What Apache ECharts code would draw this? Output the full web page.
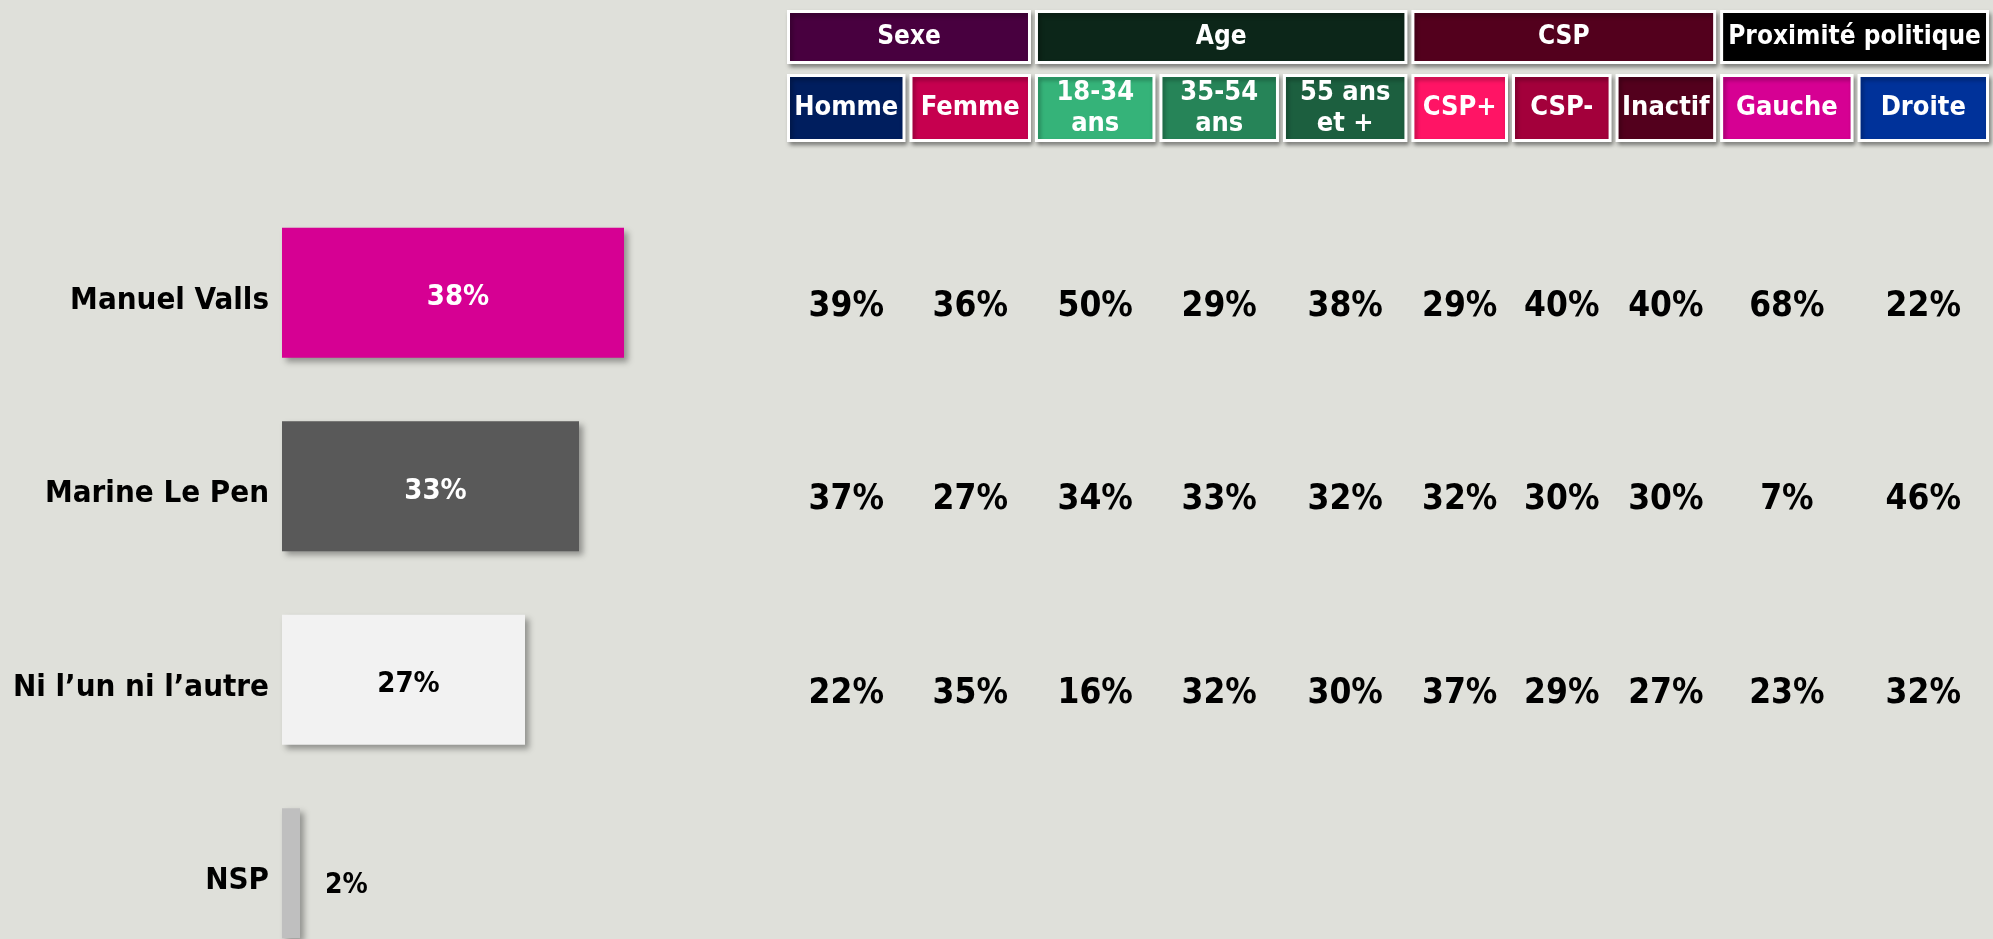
<!DOCTYPE html>
<html>
<head>
<meta charset="utf-8">
<script src="https://cdn.jsdelivr.net/npm/echarts@6/dist/echarts.min.js"></script>
<style>
  html, body { margin: 0; padding: 0; background: #dfe0da; overflow: hidden; }
  /* taller than the window so the last bar can run past the bottom edge */
  #chart { width: 1993px; height: 1000px; }
</style>
</head>
<body>
<div id="chart"></div>
<script>
// Data
const candidates = ['Manuel Valls', 'Marine Le Pen', 'Ni l’un ni l’autre', 'NSP']
const totals = [38, 33, 27, 2]

const groups = ['Sexe', 'Age', 'CSP', 'Proximité politique']
const groupSpans = [2, 3, 3, 2]
const subgroups = ['Homme', 'Femme', '18-34\nans', '35-54\nans', '55 ans\net +', 'CSP+', 'CSP-', 'Inactif', 'Gauche', 'Droite']

const vallsBySub = [39, 36, 50, 29, 38, 29, 40, 40, 68, 22]
const lePenBySub = [37, 27, 34, 33, 32, 32, 30, 30, 7, 46]
const niNiBySub = [22, 35, 16, 32, 30, 37, 29, 27, 23, 32]
const tableRows = [vallsBySub, lePenBySub, niNiBySub]

// Colours
const barColors = ['#d60093', '#595959', '#f2f2f2', '#bfbfbf']
const barLabelColors = ['#fff', '#fff', '#000', '#000']
const groupColors = ['#48003f', '#0c2619', '#53001d', '#000000']
const subColors = ['#001e5e', '#c6004f', '#35b379', '#268458', '#1c5f3f', '#ff1465', '#a3003b', '#53001d', '#d60093', '#00329a']

// Layout (column widths of the table, in px)
const colWidths = [123, 126, 125, 124, 129, 101, 104, 105, 138, 136]
const colStarts = []
colWidths.reduce((acc, w, i) => { colStarts[i] = acc; return acc + w }, 0)
const tableWidth = colWidths.reduce((a, b) => a + b, 0)
const GAP = 4
const FONT = "'DejaVu Sans Condensed', 'DejaVu Sans', sans-serif"
const GROUP_TOP = 10, GROUP_H = 54
const SUB_TOP = 74, SUB_H = 68
const ROW_NUDGE = 14

const chart = echarts.init(document.getElementById('chart'))

const cellStyle = (fill) => ({
  fill: fill,
  stroke: '#fff',
  lineWidth: 3,
  shadowBlur: 4,
  shadowOffsetX: 2,
  shadowOffsetY: 3,
  shadowColor: 'rgba(0,0,0,0.35)'
})

const headerCell = (top, height, colors, names, fontSize) => (params, api) => {
  const x0 = api.coord([api.value(0), 0])[0]
  const x1 = api.coord([api.value(1), 0])[0]
  const i = params.dataIndex
  return {
    type: 'group',
    children: [
      {
        type: 'rect',
        shape: { x: x0 + 1.5, y: top + 1.5, width: x1 - x0 - 3, height: height - 3 },
        style: cellStyle(colors[i])
      },
      {
        type: 'text',
        style: {
          text: names[i],
          x: (x0 + x1) / 2,
          y: top + height / 2,
          align: 'center',
          verticalAlign: 'middle',
          font: 'bold ' + fontSize + 'px ' + FONT,
          lineHeight: 31,
          fill: '#fff'
        }
      }
    ]
  }
}

// group header spans
let first = 0
const groupData = groupSpans.map((span) => {
  const last = first + span - 1
  const item = [colStarts[first], colStarts[last] + colWidths[last] - GAP, 0]
  first += span
  return item
})
const subData = subgroups.map((_, i) => [colStarts[i], colStarts[i] + colWidths[i] - GAP, 0])

const valueData = []
tableRows.forEach((row, r) => {
  row.forEach((v, c) => {
    valueData.push([colStarts[c] + (colWidths[c] - GAP) / 2, r, v])
  })
})

chart.setOption({
  animation: false,
  backgroundColor: '#dfe0da',
  grid: [
    { left: 282, top: 196, width: 900, height: 774 },
    { left: 787, top: 196, width: tableWidth, height: 774 }
  ],
  xAxis: [
    { type: 'value', gridIndex: 0, min: 0, max: 100, show: false },
    { type: 'value', gridIndex: 1, min: 0, max: tableWidth, show: false }
  ],
  yAxis: [
    {
      type: 'category',
      gridIndex: 0,
      data: candidates,
      inverse: true,
      axisLine: { show: false },
      axisTick: { show: false },
      axisLabel: {
        margin: 13,
        color: '#000',
        fontSize: 31,
        fontWeight: 'bold',
        fontFamily: FONT,
        verticalAlign: 'top',
        lineHeight: 16
      }
    },
    { type: 'category', gridIndex: 1, data: candidates, inverse: true, show: false }
  ],
  series: [
    {
      type: 'bar',
      xAxisIndex: 0,
      yAxisIndex: 0,
      barWidth: 130,
      data: totals.map((v, i) => ({
        value: v,
        itemStyle: { color: barColors[i] },
        label: {
          show: true,
          position: v < 5 ? 'right' : 'inside',
          distance: 25,
          offset: v < 5 ? [0, 12] : [5, 5],
          color: barLabelColors[i],
          fontSize: v < 5 ? 28 : 29,
          fontWeight: 'bold',
          fontFamily: FONT,
          formatter: '{c}%'
        }
      })),
      itemStyle: {
        shadowBlur: 6,
        shadowOffsetX: 4,
        shadowOffsetY: 4,
        shadowColor: 'rgba(0,0,0,0.35)'
      }
    },
    {
      type: 'custom',
      xAxisIndex: 1,
      yAxisIndex: 1,
      encode: { x: [0, 1], y: 2 },
      data: groupData,
      renderItem: headerCell(GROUP_TOP, GROUP_H, groupColors, groups, 26)
    },
    {
      type: 'custom',
      xAxisIndex: 1,
      yAxisIndex: 1,
      encode: { x: [0, 1], y: 2 },
      data: subData,
      renderItem: headerCell(SUB_TOP, SUB_H, subColors, subgroups, 27)
    },
    {
      type: 'custom',
      xAxisIndex: 1,
      yAxisIndex: 1,
      data: valueData,
      renderItem: (params, api) => {
        const p = api.coord([api.value(0), api.value(1)])
        return {
          type: 'text',
          style: {
            text: api.value(2) + '%',
            x: p[0],
            y: p[1] + ROW_NUDGE,
            align: 'center',
            verticalAlign: 'middle',
            font: 'bold 35px ' + FONT,
            fill: '#000'
          }
        }
      }
    }
  ]
})
</script>
</body>
</html>
